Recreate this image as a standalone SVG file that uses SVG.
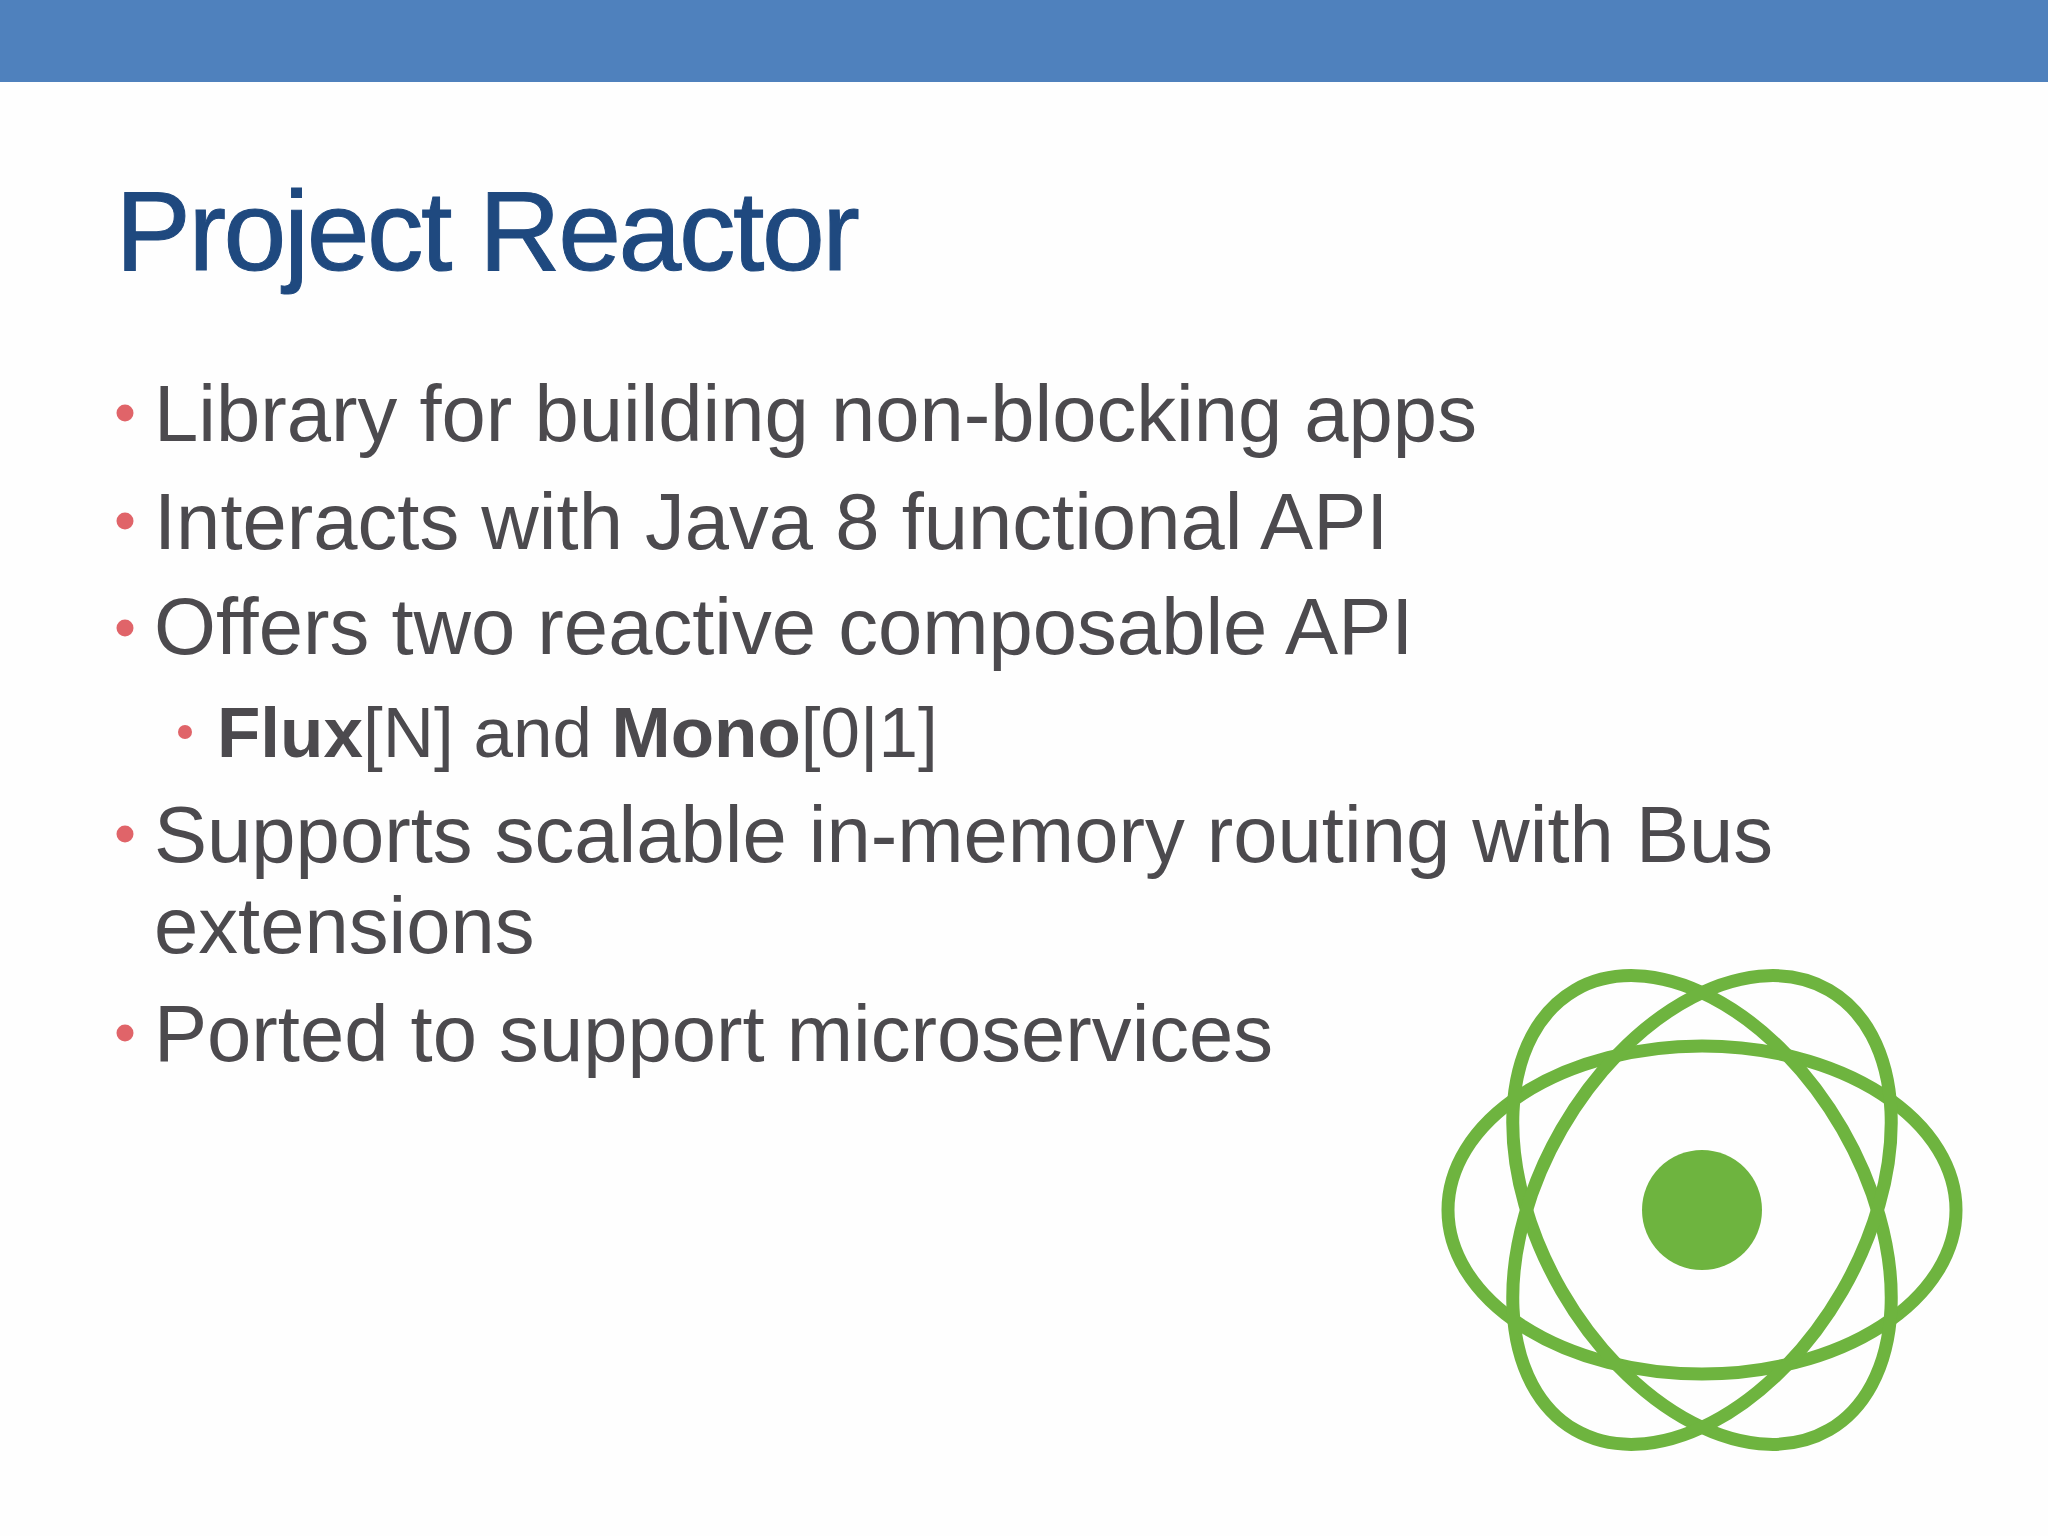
<svg xmlns="http://www.w3.org/2000/svg" width="2048" height="1536" viewBox="0 0 2048 1536">
<style>
text{font-family:"Liberation Sans",Arial,sans-serif;fill:#4c4a4e}
.b{font-size:79.6px}
.s{font-size:71px}
.d{fill:#e06469}
.o{fill:none;stroke:#6eb43f;stroke-width:13}
</style>
<rect width="2048" height="1536" fill="#fefefe"/>
<rect id="top-bar" width="2048" height="82" fill="#4f81bd"/>
<text id="title" x="115.5" y="270" font-size="113" letter-spacing="-2.45" stroke="#1f497f" stroke-width="1" style="fill:#1f497f">Project Reactor</text>
<g id="bullets">
<circle class="d" cx="125" cy="413" r="8.5"/>
<text class="b" x="154" y="441">Library for building non-blocking apps</text>
<circle class="d" cx="125" cy="521" r="8.5"/>
<text class="b" x="154" y="549">Interacts with Java 8 functional API</text>
<circle class="d" cx="125" cy="628" r="8.5"/>
<text class="b" x="154" y="654">Offers two reactive composable API</text>
<circle class="d" cx="185" cy="732" r="7"/>
<text class="s" x="217" y="757"><tspan font-weight="bold">Flux</tspan>[N] and <tspan font-weight="bold">Mono</tspan>[0|1]</text>
<circle class="d" cx="125" cy="834" r="8.5"/>
<text class="b" x="154" y="862">Supports scalable in-memory routing with Bus</text>
<text class="b" x="154" y="953">extensions</text>
<circle class="d" cx="125" cy="1033" r="8.5"/>
<text class="b" x="154" y="1061">Ported to support microservices</text>
</g>
<g id="logo">
<ellipse class="o" cx="1702" cy="1210" rx="254" ry="164"/>
<ellipse class="o" cx="1702" cy="1210" rx="254" ry="162" transform="rotate(60 1702 1210)"/>
<ellipse class="o" cx="1702" cy="1210" rx="254" ry="162" transform="rotate(-60 1702 1210)"/>
<circle cx="1702" cy="1210" r="60" fill="#6eb43f"/>
</g>
</svg>
